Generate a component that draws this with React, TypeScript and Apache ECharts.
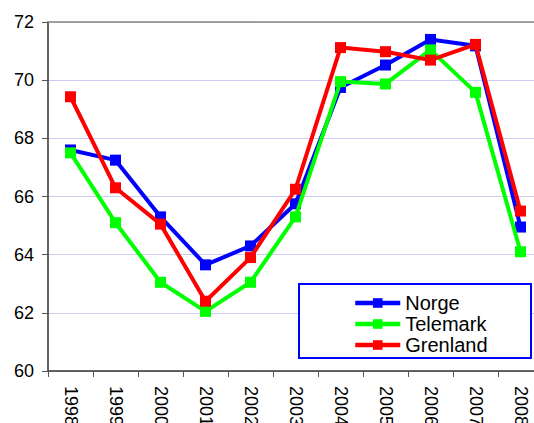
import React, { useEffect, useRef } from "react";
import * as echarts from "echarts";

const years = ["1998", "1999", "2000", "2001", "2002", "2003", "2004", "2005", "2006", "2007", "2008"];
const norge = [67.6, 67.25, 65.3, 63.65, 64.3, 65.75, 69.75, 70.52, 71.4, 71.18, 64.95];
const telemark = [67.5, 65.1, 63.05, 62.05, 63.05, 65.3, 69.95, 69.87, 71.04, 69.58, 64.1];
const grenland = [69.43, 66.3, 65.05, 62.4, 63.9, 66.25, 71.12, 70.98, 70.69, 71.23, 65.5];
const seriesNames = ["Norge", "Telemark", "Grenland"];
const seriesColors = ["#0000ff", "#00ff00", "#ff0000"];
const yTicks = { min: 60, max: 72, interval: 2 };

const FONT = "'Liberation Sans', Arial, sans-serif";

export default function App() {
  const ref = useRef<HTMLDivElement>(null);
  useEffect(() => {
    if (!ref.current) return;
    const chart = echarts.init(ref.current, undefined, { renderer: "svg" });
    const data = [norge, telemark, grenland];
    chart.setOption({
      animation: false,
      backgroundColor: "#ffffff",
      grid: { left: 48, top: 22, bottom: 52, right: -9, containLabel: false, outerBoundsMode: "none" },
      xAxis: [
        {
          type: "category",
          data: years,
          boundaryGap: true,
          axisLine: { lineStyle: { color: "#333333", width: 1.5 } },
          axisTick: { show: true, length: 6, lineStyle: { color: "#555555" } },
          axisLabel: {
            rotate: -90,
            margin: 15,
            color: "#000000",
            fontSize: 18,
            fontFamily: FONT,
            interval: 0,
          },
          splitLine: { show: false },
        },
        {
          type: "category",
          data: years,
          position: "top",
          axisLine: { show: true, lineStyle: { color: "#888888", width: 1.5 } },
          axisTick: { show: false },
          axisLabel: { show: false },
        },
      ],
      yAxis: {
        type: "value",
        min: yTicks.min,
        max: yTicks.max,
        interval: yTicks.interval,
        axisLine: { show: true, lineStyle: { color: "#333333", width: 1.5 } },
        axisTick: { show: true, length: 6, lineStyle: { color: "#555555" } },
        axisLabel: { margin: 14, color: "#000000", fontSize: 18, fontFamily: FONT },
        splitLine: { show: true, lineStyle: { color: "#ccccf4", width: 1 } },
      },
      legend: {
        data: seriesNames,
        orient: "vertical",
        left: 348,
        top: 288,
        itemWidth: 45,
        itemHeight: 12,
        itemGap: 1,
        z: 10,
        lineStyle: { width: 4.5 },
        textStyle: { fontSize: 20, fontFamily: FONT, color: "#000000", padding: [0, 0, 0, 0] },
      },
      graphic: [
        {
          type: "rect",
          z: 5,
          shape: { x: 299, y: 284, width: 232, height: 74 },
          style: { fill: "#ffffff", stroke: "#0000ff", lineWidth: 2 },
        },
      ],
      series: seriesNames.map((name, i) => ({
        name,
        type: "line",
        data: data[i],
        symbol: "rect",
        symbolSize: 11,
        lineStyle: { color: seriesColors[i], width: 4 },
        itemStyle: { color: seriesColors[i] },
        z: 2 + i,
      })),
    });
    return () => chart.dispose();
  }, []);
  return <div ref={ref} style={{ position: "fixed", left: 0, top: 0, width: 534, height: 423 }} />;
}
